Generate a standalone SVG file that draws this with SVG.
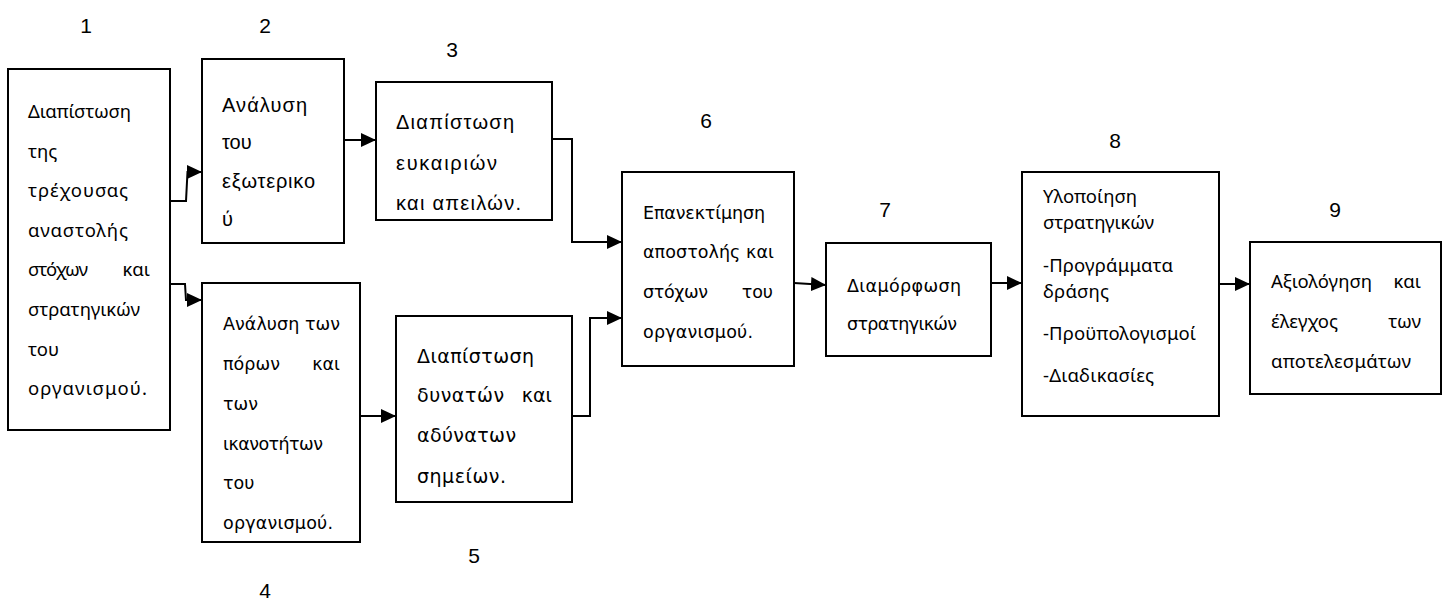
<svg xmlns="http://www.w3.org/2000/svg" width="1447" height="601" viewBox="0 0 1447 601">
<style>
.box{fill:#fff;stroke:#000;stroke-width:2}
.num{font-family:"Liberation Sans",Arial,sans-serif;font-size:21px;fill:#000;text-anchor:middle}
.c{font-family:"Noto Sans","Open Sans",sans-serif;font-size:18.5px;fill:#000}
.a{font-family:"Liberation Sans",Arial,sans-serif;font-size:20px;fill:#000}
.d{font-family:"DejaVu Sans",sans-serif;font-size:17.5px;fill:#000}
.d5{font-size:19px}
.e{text-anchor:end}
.conn{fill:none;stroke:#000;stroke-width:2}
</style>
<defs>
<marker id="arr" markerUnits="userSpaceOnUse" markerWidth="16" markerHeight="14" refX="15" refY="7" orient="auto">
<path d="M0,0 L15,7 L0,14 Z" fill="#000"/>
</marker>
</defs>
<g id="numbers">
<text class="num" x="86" y="33">1</text>
<text class="num" x="265" y="33">2</text>
<text class="num" x="452" y="57">3</text>
<text class="num" x="265" y="598">4</text>
<text class="num" x="474" y="563">5</text>
<text class="num" x="706" y="128">6</text>
<text class="num" x="885" y="217">7</text>
<text class="num" x="1115" y="148">8</text>
<text class="num" x="1335" y="217">9</text>
</g>
<g id="connectors">
<path class="conn" d="M170,201 H186 L187.5,172 H202" marker-end="url(#arr)"/>
<path class="conn" d="M170,284 H185 L186,300 H202" marker-end="url(#arr)"/>
<path class="conn" d="M344,140 H376" marker-end="url(#arr)"/>
<path class="conn" d="M552,139 H572 V242 H622" marker-end="url(#arr)"/>
<path class="conn" d="M360,416 H396" marker-end="url(#arr)"/>
<path class="conn" d="M569,416 H590 V318 H622" marker-end="url(#arr)"/>
<path class="conn" d="M794,283 L826,285" marker-end="url(#arr)"/>
<path class="conn" d="M991,283 H1022" marker-end="url(#arr)"/>
<path class="conn" d="M1219,284 H1250" marker-end="url(#arr)"/>
</g>
<g id="node1">
<rect class="box" x="8" y="69" width="162" height="361"/>
<text class="c" x="28" y="118" textLength="103">Διαπίστωση</text>
<text class="c" x="28" y="157.6">της</text>
<text class="c" x="28" y="197.2" textLength="100">τρέχουσας</text>
<text class="c" x="28" y="236.8" textLength="100">αναστολής</text>
<text class="c" x="28" y="276.4" textLength="60">στόχων</text>
<text class="c e" x="150" y="276.4">και</text>
<text class="c" x="28" y="316" textLength="112">στρατηγικών</text>
<text class="c" x="28" y="355.6">του</text>
<text class="c" x="28" y="395.2" textLength="119">οργανισμού.</text>
</g>
<g id="node2">
<rect class="box" x="202" y="59" width="142" height="184"/>
<text class="a" x="222" y="112" textLength="85">Ανάλυση</text>
<text class="a" x="222" y="149">του</text>
<text class="a" x="222" y="188" textLength="93">εξωτερικο</text>
<text class="a" x="222" y="226">ύ</text>
</g>
<g id="node3">
<rect class="box" x="376" y="82" width="176" height="138"/>
<text class="a" x="396" y="129" textLength="118">Διαπίστωση</text>
<text class="a" x="396" y="170" textLength="101">ευκαιριών</text>
<text class="a" x="396" y="210" textLength="125">και απειλών.</text>
</g>
<g id="node4">
<rect class="box" x="202" y="283" width="158" height="259"/>
<text class="d" x="223" y="330" textLength="117">Ανάλυση των</text>
<text class="d" x="223" y="370" textLength="57">πόρων</text>
<text class="d e" x="340" y="370">και</text>
<text class="d" x="223" y="410">των</text>
<text class="d" x="223" y="450" textLength="100">ικανοτήτων</text>
<text class="d" x="223" y="489">του</text>
<text class="d" x="223" y="529" textLength="110">οργανισμού.</text>
</g>
<g id="node5">
<rect class="box" x="396" y="316" width="176" height="186"/>
<text class="d d5" x="417" y="363" textLength="117">Διαπίστωση</text>
<text class="d d5" x="417" y="402" textLength="87">δυνατών</text>
<text class="d d5 e" x="552" y="402">και</text>
<text class="d d5" x="417" y="442" textLength="99">αδύνατων</text>
<text class="d d5" x="417" y="483" textLength="89">σημείων.</text>
</g>
<g id="node6">
<rect class="box" x="622" y="172" width="172" height="194"/>
<text class="d" x="643" y="219" textLength="122">Επανεκτίμηση</text>
<text class="d" x="643" y="258" textLength="131">αποστολής και</text>
<text class="d" x="643" y="298" textLength="65">στόχων</text>
<text class="d e" x="773" y="298">του</text>
<text class="d" x="643" y="338" textLength="110">οργανισμού.</text>
</g>
<g id="node7">
<rect class="box" x="826" y="243" width="165" height="113"/>
<text class="d" x="847" y="291.5" textLength="114">Διαμόρφωση</text>
<text class="d" x="847" y="330" textLength="110">στρατηγικών</text>
</g>
<g id="node8">
<rect class="box" x="1022" y="172" width="197" height="244"/>
<text class="c" x="1043" y="203" textLength="94">Υλοποίηση</text>
<text class="c" x="1043" y="229" textLength="111">στρατηγικών</text>
<text class="c" x="1043" y="271.5" textLength="130">-Προγράμματα</text>
<text class="c" x="1043" y="297.5" textLength="66">δράσης</text>
<text class="c" x="1043" y="340" textLength="153">-Προϋπολογισμοί</text>
<text class="c" x="1043" y="382" textLength="111">-Διαδικασίες</text>
</g>
<g id="node9">
<rect class="box" x="1250" y="242" width="191" height="152"/>
<text class="c" x="1271" y="287.5" textLength="101">Αξιολόγηση</text>
<text class="c e" x="1421" y="287.5">και</text>
<text class="c" x="1271" y="328" textLength="67">έλεγχος</text>
<text class="c e" x="1421" y="328">των</text>
<text class="c" x="1271" y="368" textLength="140">αποτελεσμάτων</text>
</g>
</svg>
